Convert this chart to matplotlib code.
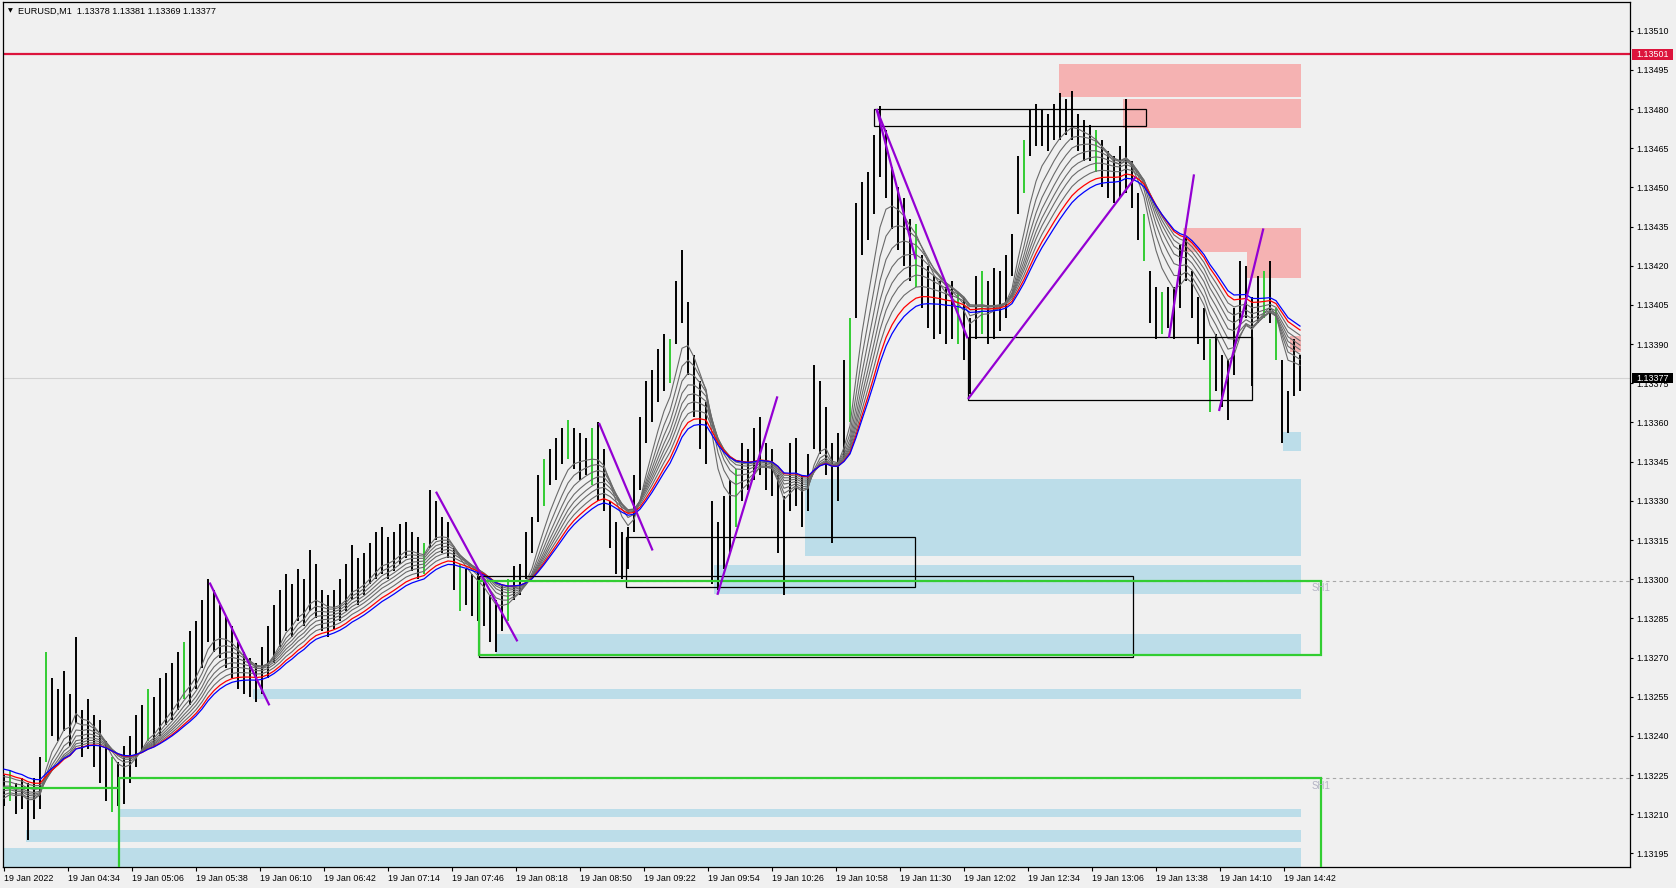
import numpy as np
import matplotlib.pyplot as plt
from matplotlib.patches import Rectangle

plt.rcParams['font.family'] = ['Liberation Sans', 'DejaVu Sans']

# prices are kept in points above 1.13000 (1 point = 0.00001)
BASE = 1.13
STEP = 3  # minutes between drawn bars, x axis is minutes since 04:02

bar_low = [213, 215, 210, 212, 200, 208, 212, 230, 240, 238, 242, 236, 245, 232, 235, 228, 222, 215, 211, 213,
           214, 222, 228, 234, 238, 236, 240, 244, 246, 250, 254, 252, 258, 266, 276, 272, 270, 266, 262, 258,
           256, 255, 253, 256, 262, 268, 274, 280, 278, 284, 282, 288, 285, 280, 278, 281, 284, 288, 292, 290,
           294, 298, 300, 302, 300, 303, 306, 308, 303, 300, 302, 312, 315, 310, 308, 296, 288, 290, 286, 284,
           282, 276, 272, 280, 284, 292, 294, 300, 310, 322, 328, 336, 338, 344, 346, 342, 338, 340, 336, 330,
           326, 312, 302, 300, 304, 318, 334, 352, 360, 368, 372, 375, 390, 398, 378, 362, 350, 344, 298, 296,
           304, 310, 320, 330, 334, 338, 340, 334, 332, 310, 294, 326, 328, 320, 326, 350, 348, 340, 314, 330,
           346, 360, 400, 424, 430, 440, 454, 446, 434, 426, 420, 414, 412, 404, 396, 392, 394, 390, 392, 390,
           384, 371, 392, 394, 390, 392, 395, 400, 416, 440, 448, 462, 466, 466, 464, 468, 468, 470, 468, 464,
           460, 460, 456, 450, 446, 444, 446, 448, 442, 430, 422, 398, 392, 394, 396, 392, 404, 414, 400, 390,
           384, 364, 372, 366, 361, 378, 398, 400, 374, 398, 400, 398, 384, 352, 356, 370, 372]
bar_high = [225, 227, 222, 224, 222, 224, 232, 272, 262, 258, 265, 256, 278, 250, 254, 248, 246, 238, 232, 230,
            236, 240, 248, 252, 258, 255, 262, 264, 268, 272, 276, 280, 284, 292, 300, 296, 290, 286, 282, 276,
            272, 270, 268, 274, 282, 290, 296, 302, 298, 304, 300, 311, 306, 296, 294, 296, 300, 306, 313, 308,
            310, 314, 318, 320, 316, 318, 321, 322, 318, 316, 314, 334, 330, 324, 322, 312, 306, 304, 302, 303,
            300, 294, 292, 298, 300, 305, 306, 318, 324, 340, 346, 350, 354, 358, 361, 358, 356, 354, 358, 360,
            350, 330, 322, 318, 320, 340, 362, 376, 380, 388, 394, 392, 414, 426, 406, 386, 376, 368, 330, 322,
            332, 338, 342, 352, 350, 358, 362, 352, 350, 340, 332, 352, 354, 340, 348, 382, 376, 366, 352, 356,
            384, 400, 444, 452, 456, 470, 481, 472, 458, 450, 446, 438, 436, 424, 420, 416, 414, 412, 414, 410,
            408, 400, 416, 418, 414, 419, 418, 424, 432, 462, 468, 480, 482, 480, 478, 482, 486, 484, 487, 478,
            476, 474, 472, 468, 464, 462, 466, 484, 460, 448, 440, 418, 412, 410, 412, 412, 428, 431, 418, 408,
            404, 392, 394, 386, 384, 404, 422, 420, 408, 416, 418, 422, 404, 384, 372, 392, 386]
green_bars = [1, 7, 18, 24, 30, 70, 76, 84, 90, 94, 98, 111, 122, 141, 152, 159, 163, 170, 182, 190, 193,
              201, 210, 212]

# moving average ribbon: spans in drawn bars, starting values read at the left edge
gray_spans = [6, 8, 10, 12, 14, 16, 18.5]
gray_start = [215, 217, 219, 220, 221, 223, 225]
red_span, red_start = 21, 226
blue_span, blue_start = 23, 228

# zones: (minute from, minute to, low, high)
blue_zones = [(400.5, 648.5, 309, 338.4), (355, 648.5, 294.3, 305.3), (246, 648.5, 271, 279),
              (124.7, 648.5, 254.1, 257.8), (639.5, 648.5, 349, 356.4), (57.5, 648.5, 209, 212),
              (11, 648.5, 199.3, 204), (-2, 648.5, 185, 197)]
pink_zones = [(527.5, 648.5, 484.6, 497.2), (559.5, 648.5, 472.7, 484.0), (589.5, 648.5, 425.4, 434.4),
              (621.5, 648.5, 415.3, 425.4), (643, 648.5, 387, 393)]
black_boxes = [(435, 571, 473.5, 480), (482, 624, 368.7, 392.9), (311, 455.5, 297.1, 316.3),
               (237.5, 564.5, 270.2, 301.2)]
green_boxes = [(237.5, 658.5, 271, 299.4), (57.5, 658.5, 180, 224)]
green_ledge = (-2, 57.5, 220.2)
dashed_levels = [(237.5, 299.4), (57.5, 224)]
sh_labels = [(654, 296.8), (654, 221)]
trend_lines = [((102.8, 298.7), (132.7, 251.7)), ((216, 333.5), (256.7, 276.2)),
               ((297.5, 359.8), (324.3, 311)), ((356.7, 294), (386.7, 370)),
               ((436.3, 480), (455.8, 422.5)), ((436.3, 480), (481.8, 392.2)),
               ((482, 369), (565.8, 454)), ((582.5, 392.5), (595, 455)),
               ((607.5, 364.4), (629.7, 434.3))]

resist_level = 501
last_price = 377
price_ticks = [195, 210, 225, 240, 255, 270, 285, 300, 315, 330, 345, 360, 375, 390, 405, 420, 435, 450,
               465, 480, 495, 510]
time_ticks = [0, 32, 64, 96, 128, 160, 192, 224, 256, 288, 320, 352, 384, 416, 448, 480, 512, 544, 576,
              608, 640]
time_labels = ['19 Jan 2022', '19 Jan 04:34', '19 Jan 05:06', '19 Jan 05:38', '19 Jan 06:10',
               '19 Jan 06:42', '19 Jan 07:14', '19 Jan 07:46', '19 Jan 08:18', '19 Jan 08:50',
               '19 Jan 09:22', '19 Jan 09:54', '19 Jan 10:26', '19 Jan 10:58', '19 Jan 11:30',
               '19 Jan 12:02', '19 Jan 12:34', '19 Jan 13:06', '19 Jan 13:38', '19 Jan 14:10',
               '19 Jan 14:42']
header = 'EURUSD,M1  1.13378 1.13381 1.13369 1.13377'


def pr(v):
    return BASE + np.asarray(v, dtype=float) * 1e-5


def ema(values, span, start):
    a = 2.0 / (span + 1)
    out, e = [], start
    for v in values:
        e = e + a * (v - e)
        out.append(e)
    return np.array(out)


bg = '#f0f0f0'
fig = plt.figure(figsize=(16.76, 8.88), dpi=100, facecolor=bg)
W, H = 1676, 888
ax = fig.add_axes([2.7 / W, (H - 867) / H, (1630 - 2.7) / W, (867 - 2) / H], facecolor=bg)
ax.set_xlim(-0.65, 813)
ax.set_ylim(pr(189.8), pr(521.0))

bx = np.arange(len(bar_low)) * STEP
lo = np.array(bar_low)
hi = np.array(bar_high)
med = (lo + hi) / 2.0

# zones
for x0, x1, p0, p1 in blue_zones:
    ax.add_patch(Rectangle((x0, pr(p0)), x1 - x0, pr(p1) - pr(p0), facecolor='#bcdde9',
                           edgecolor='none', zorder=1))
for x0, x1, p0, p1 in pink_zones:
    ax.add_patch(Rectangle((x0, pr(p0)), x1 - x0, pr(p1) - pr(p0), facecolor='#f5b2b2',
                           edgecolor='none', zorder=1))

# levels
ax.axhline(pr(last_price), color='#d2d2d2', lw=0.8, zorder=1.2)
for x0, p in dashed_levels:
    ax.plot([x0, 813], [pr(p), pr(p)], color='#a8a8a8', lw=0.8, ls=(0, (3, 3)), zorder=1.3)
ax.axhline(pr(resist_level), color='#dc143c', lw=1.6, zorder=2)

# bars
colors = ['#32cd32' if i in green_bars else 'black' for i in range(len(bx))]
ax.vlines(bx, pr(lo), pr(hi), colors=colors, lw=1.4, zorder=3)

# ribbon
for s, st in zip(gray_spans, gray_start):
    ax.plot(bx, pr(ema(med, s, st)), color='#6a6a6a', lw=0.8, zorder=4)
ax.plot(bx, pr(ema(med, red_span, red_start)), color='red', lw=0.9, zorder=4)
ax.plot(bx, pr(ema(med, blue_span, blue_start)), color='blue', lw=0.9, zorder=4)

# boxes
for x0, x1, p0, p1 in black_boxes:
    ax.add_patch(Rectangle((x0, pr(p0)), x1 - x0, pr(p1) - pr(p0), facecolor='none',
                           edgecolor='black', lw=0.9, zorder=5))
for x0, x1, p0, p1 in green_boxes:
    ax.add_patch(Rectangle((x0, pr(p0)), x1 - x0, pr(p1) - pr(p0), facecolor='none',
                           edgecolor='#32cd32', lw=1.6, zorder=5))
ax.plot([green_ledge[0], green_ledge[1]], [pr(green_ledge[2])] * 2, color='#32cd32', lw=1.6, zorder=5)
for x, p in sh_labels:
    ax.text(x, pr(p), 'SH1', color='#b4b4c4', fontsize=7, va='center', ha='left', zorder=6)

for (x0, p0), (x1, p1) in trend_lines:
    ax.plot([x0, x1], [pr(p0), pr(p1)], color='#9400d3', lw=1.6, zorder=6, solid_capstyle='butt')

# axes styling
for sp in ax.spines.values():
    sp.set_color('black')
    sp.set_linewidth(0.9)
ax.yaxis.tick_right()
ax.set_yticks(pr(price_ticks))
ax.set_yticklabels(['%.5f' % v for v in pr(price_ticks)])
ax.set_xticks(time_ticks)
ax.set_xticklabels(time_labels, ha='left')
ax.tick_params(axis='y', length=2.5, width=0.8, pad=2, labelsize=6.4, colors='black')
ax.tick_params(axis='x', length=3, width=0.8, pad=2, labelsize=6.4, colors='black')

# price boxes on the scale
yt = ax.get_yaxis_transform()
box_w = 41 / 1627.3
for p, fc, h in [(resist_level, '#dc143c', 4.2), (last_price, 'black', 3.9)]:
    ax.add_patch(Rectangle((1.0013, pr(p - h / 2)), box_w, pr(h) - BASE, transform=yt,
                           facecolor=fc, edgecolor='none', clip_on=False, zorder=7))
    ax.text(1.0013 + box_w / 2, pr(p), '%.5f' % pr(p), transform=yt, color='white', fontsize=6.4,
            ha='center', va='center', clip_on=False, zorder=8)

fig.text(10 / W, 1 - 11 / H, '\u25bc', fontsize=4.5, ha='center', va='center', color='black',
         family='DejaVu Sans')
fig.text(18 / W, 1 - 11 / H, header, fontsize=6.6, ha='left', va='center', color='black')

fig.savefig('out.png', dpi=100, facecolor=bg)
